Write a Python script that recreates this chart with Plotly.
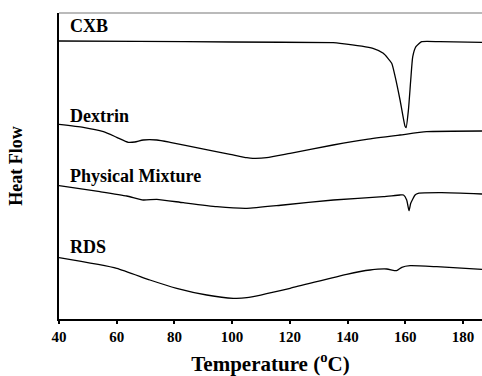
import plotly.graph_objects as go

# Temperature (°C) and heat flow (arbitrary units, stacked offsets)
cxb_t = [40, 67.4, 100, 135, 137.4, 148.8, 152.4, 155.3, 156.5, 158.2, 159.9, 160.3, 161.1, 161.9, 162.6, 163.7, 165.7, 172, 186.6]
cxb_h = [278, 277.7, 277, 276.3, 275.7, 270.7, 265.7, 255.7, 242.3, 219, 193, 191.3, 209, 239, 262.3, 272.3, 277.3, 277.3, 276.7]

dex_t = [40, 48.4, 55.4, 60, 64, 66.3, 69.2, 73.9, 78.5, 88.9, 99.3, 105.1, 107.2, 112, 120.1, 135, 146.6, 158.2, 167.4, 186.6]
dex_h = [194.7, 191.7, 187.3, 181.7, 176.7, 177, 179, 179, 176.7, 170.7, 164.7, 161.3, 160.7, 161.3, 165.7, 174, 179.7, 184, 187.3, 188]

pm_t = [40, 54.2, 63.5, 69.2, 73.9, 83.1, 94.7, 105.1, 117.7, 135.1, 152.4, 158.2, 159.4, 160.5, 161.3, 161.9, 163.4, 164.5, 172.6, 186.6]
pm_h = [133.3, 127.3, 123, 119, 119.7, 116.3, 112.3, 110.7, 114, 119, 122.3, 124, 124, 119, 108.3, 115.7, 124, 125.7, 126.3, 125]

rds_t = [40, 60, 71.5, 80.8, 91.2, 100.4, 105.1, 120.1, 139.7, 147.8, 153.6, 157, 158.8, 161.7, 170.9, 186.6]
rds_h = [61.3, 50.7, 39, 30.7, 24, 20.7, 21.3, 30.7, 44.7, 49, 50, 48.3, 51.7, 53.3, 52.3, 49.7]

labels = ["CXB", "Dextrin", "Physical Mixture", "RDS"]
label_h = [293, 203.3, 143.3, 72.3]

x_ticks = [40, 60, 80, 100, 120, 140, 160, 180]

fig = go.Figure()
for t, h in [(cxb_t, cxb_h), (dex_t, dex_h), (pm_t, pm_h), (rds_t, rds_h)]:
    fig.add_trace(go.Scatter(x=t, y=h, mode="lines",
                             line=dict(color="black", width=1.3, shape="spline", smoothing=0.5),
                             showlegend=False, hoverinfo="skip"))

for name, yh in zip(labels, label_h):
    fig.add_annotation(x=43.1, y=yh, text="<b>%s</b>" % name, showarrow=False,
                       xanchor="left", yanchor="middle",
                       font=dict(family="Liberation Serif", size=18, color="black"))

fig.add_shape(type="line", xref="paper", yref="paper", x0=0, x1=1, y0=1, y1=1,
              line=dict(color="#777777", width=1.2))

fig.update_layout(
    width=482, height=376,
    margin=dict(l=59, r=0, t=13, b=57),
    paper_bgcolor="white", plot_bgcolor="white",
    font=dict(family="Liberation Serif", color="black"),
    xaxis=dict(range=[40, 186.6], tickvals=x_ticks, ticktext=["<b>%d</b>" % v for v in x_ticks],
               ticks="outside", ticklen=3, tickwidth=1.5, tickcolor="black",
               showline=True, linecolor="black", linewidth=2, showgrid=False, zeroline=False,
               tickfont=dict(family="Liberation Serif", size=15, color="black"),
               title=dict(text="<b>Temperature (<sup>o</sup>C)</b>", standoff=17,
                          font=dict(family="Liberation Serif", size=21, color="black"))),
    yaxis=dict(range=[0, 306], showticklabels=False, ticks="", showline=True,
               linecolor="black", linewidth=2, showgrid=False, zeroline=False,
               title=dict(text="<b>Heat Flow</b>", standoff=30,
                          font=dict(family="Liberation Serif", size=18, color="black"))),
)

fig.write_html("out.html", config={"displayModeBar": False},
               post_script="document.body.style.margin='0px';document.body.style.overflow='hidden';")
